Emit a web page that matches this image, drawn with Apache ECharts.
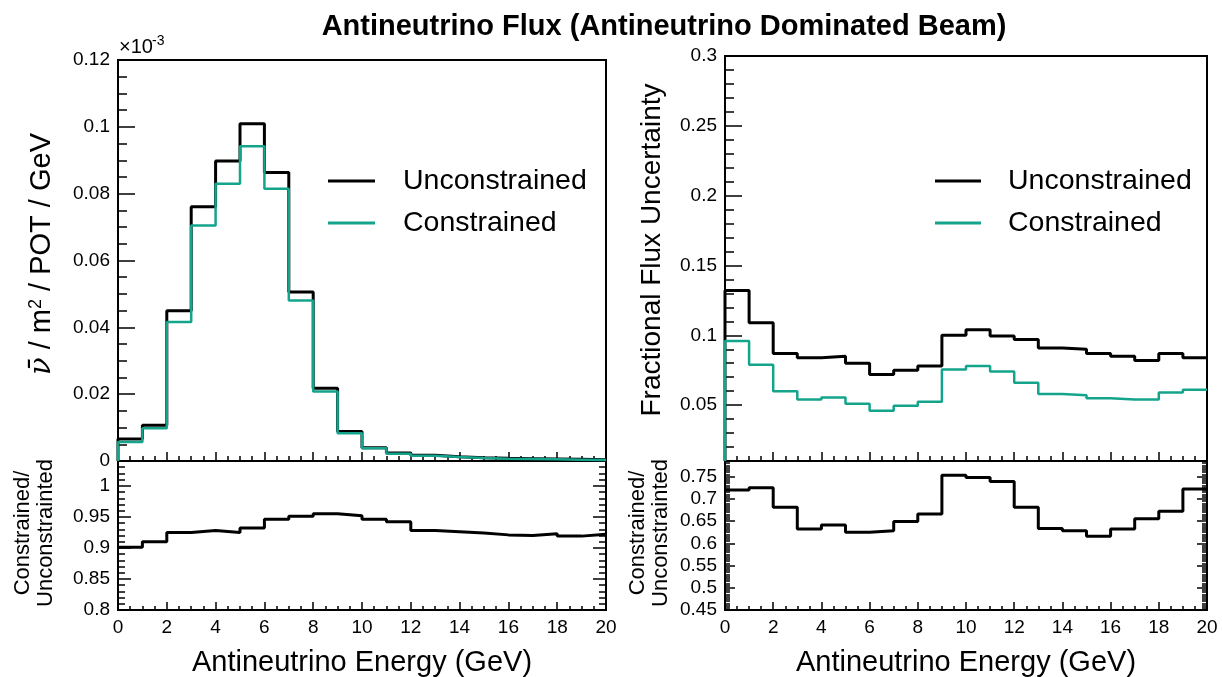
<!DOCTYPE html>
<html><head><meta charset="utf-8">
<script src="https://cdn.jsdelivr.net/npm/echarts@6/dist/echarts.min.js"></script>
<style>html,body{margin:0;padding:0;background:#fff}#c{width:1222px;height:677px}</style>
</head><body><div id="c"></div>
<script>
// ---- data ----
const BIN_EDGES = [0,1,2,3,4,5,6,7,8,9,10,11,12,13,14,15,16,17,18,19,20];
const FLUX_UNCONSTRAINED = [0.0066,0.0107,0.0450,0.0761,0.0898,0.1009,0.0863,0.0506,0.0218,0.0088,0.0040,0.0024,0.0017,0.0013,0.0010,0.0008,0.0007,0.0006,0.0005,0.0004];
const FLUX_CONSTRAINED   = [0.0057,0.0098,0.0416,0.0705,0.0830,0.0942,0.0815,0.0480,0.0208,0.0083,0.0038,0.0022,0.0016,0.0012,0.0009,0.0007,0.0006,0.0005,0.0004,0.0003];
const FLUX_RATIO = [0.901,0.910,0.925,0.928,0.925,0.932,0.946,0.951,0.955,0.952,0.946,0.942,0.928,0.926,0.924,0.921,0.920,0.923,0.919,0.922];
const UNC_UNCONSTRAINED = [0.132,0.109,0.087,0.084,0.085,0.080,0.072,0.075,0.078,0.100,0.104,0.0995,0.097,0.091,0.090,0.087,0.085,0.082,0.087,0.084];
const UNC_CONSTRAINED   = [0.096,0.079,0.060,0.054,0.0555,0.051,0.046,0.0495,0.0525,0.0755,0.078,0.074,0.066,0.058,0.057,0.055,0.054,0.054,0.059,0.061];
const UNC_RATIO = [0.720,0.725,0.681,0.632,0.641,0.625,0.628,0.649,0.666,0.753,0.748,0.739,0.681,0.633,0.628,0.616,0.632,0.655,0.672,0.722];
const X_TICK_LABELS = [0,2,4,6,8,10,12,14,16,18,20];
const FLUX_Y_TICKS = [0,0.02,0.04,0.06,0.08,0.1,0.12];
const FLUX_RATIO_Y_TICKS = [0.8,0.85,0.9,0.95,1];
const UNC_Y_TICKS = [0.05,0.1,0.15,0.2,0.25,0.3];
const UNC_RATIO_Y_TICKS = [0.45,0.5,0.55,0.6,0.65,0.7,0.75];
const LEGEND_NAMES = ['Unconstrained','Constrained'];

// ---- styling ----
const FONT = '"Liberation Sans", Arial, Helvetica, sans-serif';
const TEAL = '#14a48c';
const GRIDS = [
  {left:118, top:60, width:488, height:401},   // flux
  {left:118, top:461, width:488, height:149},  // flux ratio
  {left:725, top:56, width:482, height:405},   // uncertainty
  {left:725, top:461, width:482, height:149}   // uncertainty ratio
];

function ticksBetween(min, max, step) {
  const out = [];
  const n0 = Math.ceil(min / step - 1e-6), n1 = Math.floor(max / step + 1e-6);
  for (let k = n0; k <= n1; k++) out.push(+(k * step).toFixed(6));
  return out;
}
const xAxis = [], yAxis = [];
function addX(g, showLabels, majLen, minLen) {
  const common = {type:'value', gridIndex:g, min:0, max:20, position:'bottom', axisLine:{show:false}, splitLine:{show:false}};
  xAxis.push(Object.assign({}, common, {
    axisTick:{show:true, inside:true, length:majLen, customValues:X_TICK_LABELS, lineStyle:{color:'#000', width:1.5}},
    axisLabel:{show:showLabels, customValues:X_TICK_LABELS, margin:8, color:'#000', fontSize:19, fontFamily:FONT}
  }));
  xAxis.push(Object.assign({}, common, {
    axisTick:{show:true, inside:true, length:minLen, customValues:ticksBetween(0,20,0.5), lineStyle:{color:'#000', width:1.5}},
    axisLabel:{show:false}
  }));
  return xAxis.length - 2;
}
function addY(g, min, max, majors, minorStep, majLen, minLen, sides) {
  let mainIdx = -1;
  sides.forEach((pos, si) => {
    const common = {type:'value', gridIndex:g, min:min, max:max, position:pos, axisLine:{show:false}, splitLine:{show:false}};
    yAxis.push(Object.assign({}, common, {
      axisTick:{show:true, inside:true, length:majLen, customValues:majors, lineStyle:{color:'#000', width:1.5}},
      axisLabel:{show:si === 0, customValues:majors, margin:8, color:'#000', fontSize:19, fontFamily:FONT}
    }));
    if (si === 0) mainIdx = yAxis.length - 1;
    yAxis.push(Object.assign({}, common, {
      axisTick:{show:true, inside:true, length:minLen, customValues:ticksBetween(min, max, minorStep), lineStyle:{color:'#000', width:1.5}},
      axisLabel:{show:false}
    }));
  });
  return mainIdx;
}

const x0 = addX(0, false, 9, 5);
const y0 = addY(0, 0, 0.12, FLUX_Y_TICKS, 0.005, 17, 9, ['left']);
const x1 = addX(1, true, 8, 4);
const y1 = addY(1, 0.8, 1.04, FLUX_RATIO_Y_TICKS, 0.01, 13, 7, ['left','right']);
const x2 = addX(2, false, 9, 5);
const y2 = addY(2, 0.01, 0.3, UNC_Y_TICKS, 0.01, 17, 9, ['left']);
const x3 = addX(3, true, 8, 4);
const y3 = addY(3, 0.45, 0.785, UNC_RATIO_Y_TICKS, 0.005, 10, 5, ['left','right']);

function histPoints(vals, base) {
  const pts = [];
  if (base !== null) pts.push([BIN_EDGES[0], base]);
  vals.forEach((v, i) => pts.push([BIN_EDGES[i], v]));
  pts.push([BIN_EDGES[vals.length], vals[vals.length - 1]]);
  return pts;
}
function hist(name, xi, yi, vals, base, color, width, z) {
  return {type:'line', name:name, xAxisIndex:xi, yAxisIndex:yi, data:histPoints(vals, base), step:'end',
    symbol:'none', color:color, lineStyle:{color:color, width:width}, z:z, animation:false, silent:true};
}

const series = [
  hist('Unconstrained', x0, y0, FLUX_UNCONSTRAINED, 0, '#000', 3, 3),
  hist('Constrained', x0, y0, FLUX_CONSTRAINED, 0, TEAL, 2.5, 4),
  hist('Flux ratio', x1, y1, FLUX_RATIO, null, '#000', 3, 3),
  hist('Unconstrained', x2, y2, UNC_UNCONSTRAINED, 0.01, '#000', 3, 3),
  hist('Constrained', x2, y2, UNC_CONSTRAINED, 0.01, TEAL, 2.5, 4),
  hist('Uncertainty ratio', x3, y3, UNC_RATIO, null, '#000', 3, 3)
];

function legendAt(left, textPad, itemWidth) {
  return {orient:'vertical', left:left, top:166, padding:0, itemWidth:itemWidth, itemHeight:3, itemGap:12,
    selectedMode:false, data:LEGEND_NAMES.map(n => ({name:n, icon:'rect'})),
    textStyle:{fontSize:28.5, lineHeight:30, color:'#000', fontFamily:FONT, padding:[0,0,0,textPad]}};
}

const option = {
  animation:false,
  backgroundColor:'#fff',
  title:{text:'Antineutrino Flux (Antineutrino Dominated Beam)', left:664, top:12, textAlign:'center', padding:0,
    textStyle:{fontSize:29, fontWeight:'bold', color:'#000', fontFamily:FONT}},
  grid:GRIDS.map(g => Object.assign({show:true, borderColor:'#000', borderWidth:2, backgroundColor:'transparent', containLabel:false, outerBoundsMode:'none'}, g)),
  xAxis:xAxis,
  yAxis:yAxis,
  legend:[legendAt(328, 23, 47), legendAt(935, 22, 46)],
  series:series,
  graphic:[
    {type:'text', x:119, y:47, style:{text:'×10', fill:'#000', font:'20px ' + FONT, verticalAlign:'middle'}},
    {type:'text', x:152, y:41, style:{text:'-3', fill:'#000', font:'14px ' + FONT, verticalAlign:'middle'}},
    {type:'text', x:42, y:254, rotation:Math.PI/2, style:{text:'{n|ν̄} / m{s|2} / POT / GeV', fill:'#000', font:'29px ' + FONT,
      align:'center', verticalAlign:'middle',
      rich:{n:{fontSize:29, fontFamily:'"DejaVu Serif", serif', fontStyle:'italic', fill:'#000'}, s:{fontSize:18, fontFamily:FONT, fill:'#000', verticalAlign:'top', padding:[0,0,12,0]}}}},
    {type:'text', x:652, y:250, rotation:Math.PI/2, style:{text:'Fractional Flux Uncertainty', fill:'#000', font:'28px ' + FONT, align:'center', verticalAlign:'middle'}},
    {type:'text', x:34, y:533, rotation:Math.PI/2, style:{text:'Constrained/\nUnconstrainted', fill:'#000', font:'22px ' + FONT, lineHeight:23, align:'center', verticalAlign:'middle'}},
    {type:'text', x:649, y:533, rotation:Math.PI/2, style:{text:'Constrained/\nUnconstrainted', fill:'#000', font:'22px ' + FONT, lineHeight:23, align:'center', verticalAlign:'middle'}},
    {type:'text', x:362, y:663, style:{text:'Antineutrino Energy (GeV)', fill:'#000', font:'29px ' + FONT, align:'center', verticalAlign:'middle'}},
    {type:'text', x:966, y:663, style:{text:'Antineutrino Energy (GeV)', fill:'#000', font:'29px ' + FONT, align:'center', verticalAlign:'middle'}}
  ]
};
const chart = echarts.init(document.getElementById('c'), null, {renderer:'canvas'});
chart.setOption(option);
</script></body></html>
